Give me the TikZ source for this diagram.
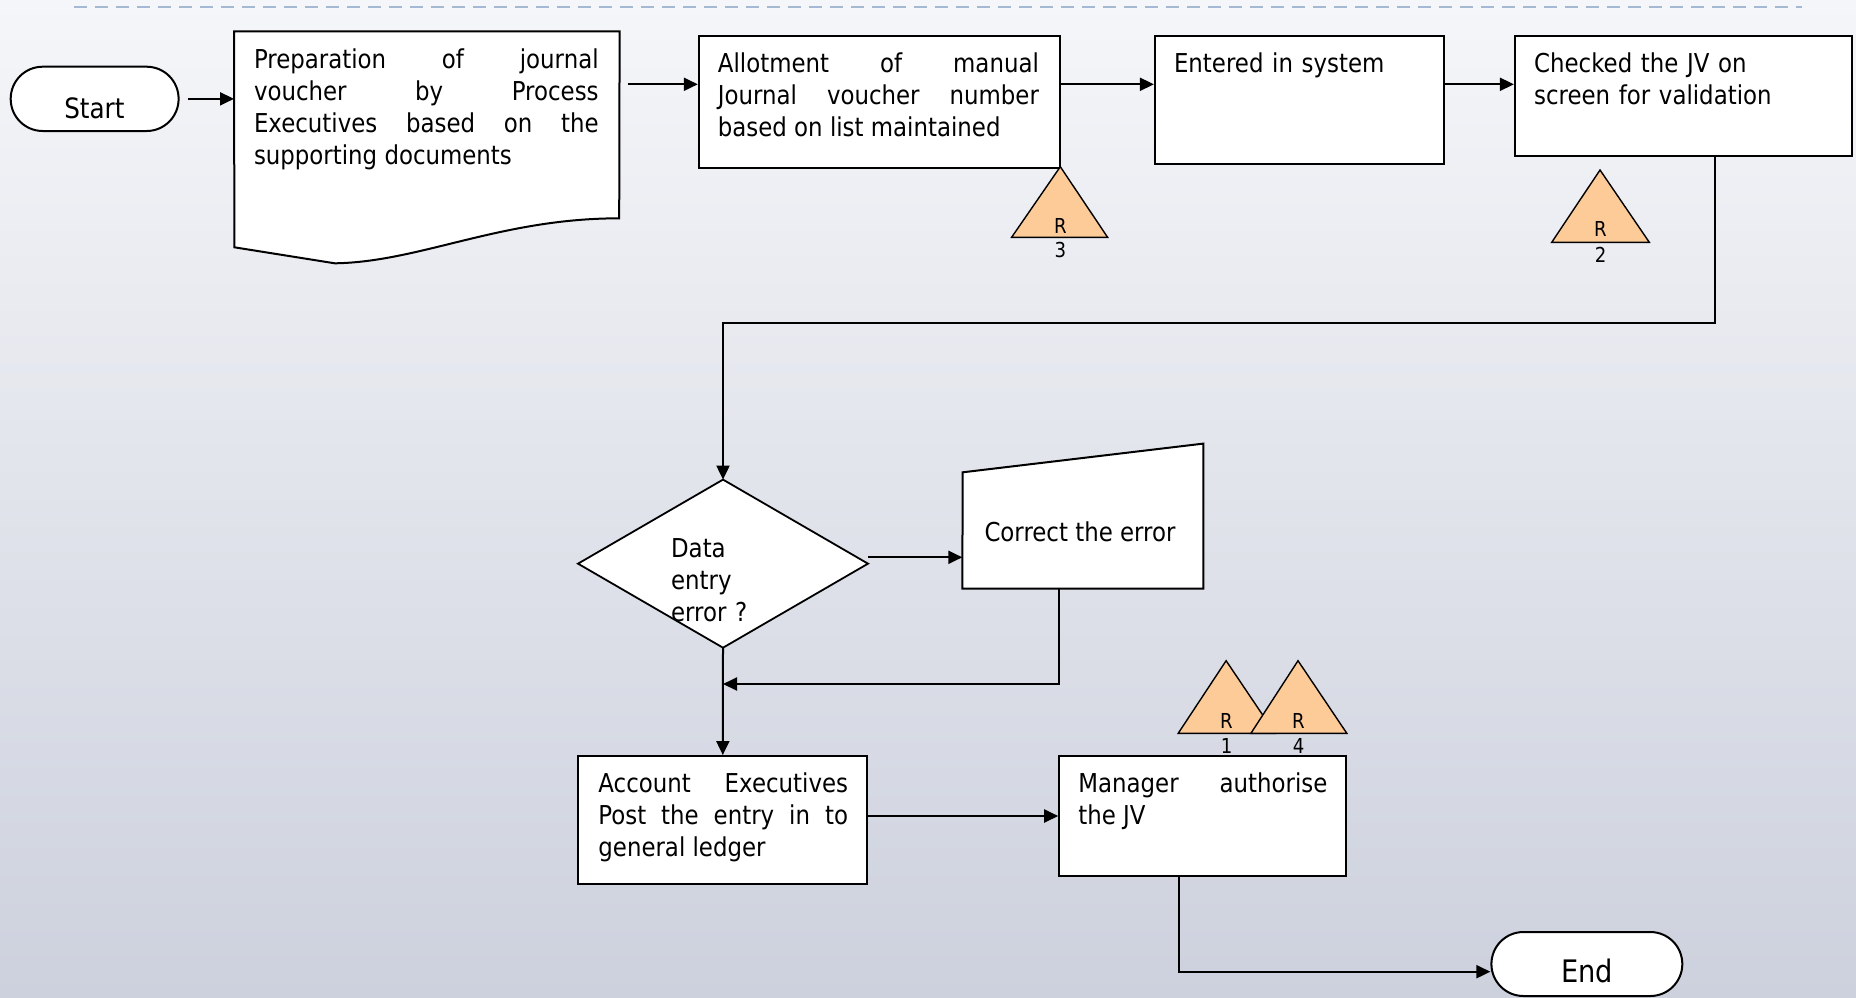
\documentclass[tikz,border=0pt]{standalone}
\usepackage{fontspec}
\setmainfont{DejaVu Sans}[FakeStretch=0.88]
\usetikzlibrary{arrows.meta}
\definecolor{bgtop}{RGB}{245,246,249}
\definecolor{bgmid}{RGB}{229,231,237}
\definecolor{bgbot}{RGB}{205,209,221}
\definecolor{dashc}{RGB}{165,186,210}
\definecolor{peach}{RGB}{253,203,152}
\begin{document}
\begin{tikzpicture}[x=0.5pt,y=-0.5pt,
  box/.style={draw=black, fill=white, line width=1pt, inner sep=0pt, rectangle},
  ghost/.style={inner sep=0pt, rectangle},
  term/.style={draw=black, fill=white, line width=1pt, inner sep=0pt, rectangle, rounded corners=16pt},
  txt/.style={inner sep=0pt, font=\fontsize{13pt}{16pt}\selectfont},
  jtxt/.style={txt, align=justify, anchor=base west},
  ltxt/.style={txt, align=left, anchor=base west},
  rtxt/.style={inner sep=0pt, font=\fontsize{10.3pt}{12pt}\selectfont, anchor=base},
  arr/.style={line width=1pt, -{Triangle[length=7pt,width=6.5pt]}},
  outline/.style={draw=black, fill=white, line width=1pt, line join=miter},
  risk/.style={draw=black, fill=peach, line width=0.7pt, line join=miter},
]
\useasboundingbox (0,0) rectangle (1856,997);
\shade[top color=bgtop, middle color=bgmid, bottom color=bgbot] (0,0) rectangle (1856,997);
\draw[dashc, line width=0.8pt, dash pattern=on 6.5pt off 4pt] (73.7,6.7) -- (1801.5,6.7);

% node frames
\node[term, minimum width=83.95pt, minimum height=32.15pt] (start) at (94.65,98.85) {};
\node[ghost, minimum width=192.4pt, minimum height=115.8pt] (doc) at (426.8,147.5) {};
\node[box, minimum width=180.4pt, minimum height=66pt] (allot) at (879.2,101.7) {};
\node[box, minimum width=144.4pt, minimum height=64pt] (entered) at (1299.3,100) {};
\node[box, minimum width=168.45pt, minimum height=60pt] (checked) at (1683.35,96) {};
\node[ghost, minimum width=144.6pt, minimum height=83.65pt] (dia) at (723,563.65) {};
\node[ghost, minimum width=120.1pt, minimum height=72.15pt] (corr) at (1082.8,516.15) {};
\node[box, minimum width=144.6pt, minimum height=64.15pt] (acct) at (722.8,820.15) {};
\node[box, minimum width=143.4pt, minimum height=60pt] (mgr) at (1202.6,816) {};
\node[term, minimum width=95.45pt, minimum height=32pt] (end) at (1586.85,964) {};

% special outlines
\draw[outline] (doc.north west) -- (doc.north east) -- (619.2,218.3)
  .. controls (500,218.3) and (420,262) .. (334.8,263.3) -- (234.4,247.3) -- cycle;
\draw[outline] (corr.south west) -- (962.7,472.3) -- (corr.north east) -- (corr.south east) -- cycle;
\draw[outline, line width=0.9pt] (dia.north) -- (dia.east) -- (dia.south) -- (dia.west) -- cycle;

% connectors
\coordinate (y1) at (0,84.3);
\coordinate (c1) at (1715,323.3);
\coordinate (c2) at (868,557.3);
\coordinate (c3) at (1058.7,684);
\coordinate (c4) at (1179,971.7);
\draw[arr, shorten <=4pt] (start.east) -- (doc.west |- start.east);
\draw[arr, shorten <=4pt] (doc.east |- y1) -- (allot.west |- y1);
\draw[arr] (allot.east |- y1) -- (entered.west |- y1);
\draw[arr] (entered.east |- y1) -- (checked.west |- y1);
\draw[arr] (checked.south -| c1) -- (c1) -- (c1 -| dia.north) -- (dia.north);
\draw[arr] (c2) -- (c2 -| corr.west);
\draw[arr] (corr.south -| c3) -- (c3) -- (c3 -| dia.south);
\draw[arr] (dia.south) -- (acct.north);
\draw[arr] (acct.east |- mgr.west) -- (mgr.west);
\draw[arr] (mgr.south -| c4) -- (c4) -- (c4 -| end.west);

% texts
\node[anchor=base, inner sep=0pt, font=\fontsize{14pt}{16pt}\selectfont] (starttext) at (94.4,118.3) {Start};
\node[anchor=base, inner sep=0pt, font=\fontsize{15.5pt}{18pt}\selectfont] (endtext) at (1587,982.7) {End};
\node[jtxt, text width=172.3pt] (doctext) at (253.6,68.3) {Preparation of journal\linebreak voucher by Process\linebreak Executives based on the\linebreak supporting documents};
\node[jtxt, text width=160.5pt] (allottext) at (717.5,72.7) {Allotment of manual\linebreak Journal voucher number\linebreak based on list maintained};
\node[ltxt, text width=130pt] (enteredtext) at (1173.6,72.7) {Entered in system};
\node[ltxt, text width=150pt] (checkedtext) at (1533.7,72.7) {Checked the JV on\\screen for validation};
\node[ltxt, text width=80pt] (diatext) at (670.7,557.7) {Data\\entry\\error ?};
\node[txt, anchor=base] (corrtext) at (1080,541) {Correct the error};
\node[jtxt, text width=124.8pt] (accttext) at (598,792.7) {Account Executives\linebreak Post the entry in to\linebreak general ledger};
\node[jtxt, text width=124.5pt] (mgrtext) at (1078,792.7) {Manager authorise\linebreak the JV};

% risk triangles
\draw[risk] (1060.3,166.7) -- (1107.6,237.3) -- (1011.6,237.3) -- cycle;
\node[rtxt] (r3a) at (1060.3,233.3) {R};
\node[rtxt] (r3b) at (1060.3,257.3) {3};
\draw[risk] (1600,170) -- (1649.3,242.3) -- (1551.7,242.3) -- cycle;
\node[rtxt] (r2a) at (1600.5,236.7) {R};
\node[rtxt] (r2b) at (1600.5,262.7) {2};
\draw[risk] (1226.1,660.7) -- (1275,733.3) -- (1178.2,733.3) -- cycle;
\node[rtxt] (r1a) at (1226.5,728.3) {R};
\node[rtxt] (r1b) at (1226.5,753.3) {1};
\draw[risk] (1298,660.7) -- (1346.8,733.3) -- (1250.9,733.3) -- cycle;
\node[rtxt] (r4a) at (1298.5,728.3) {R};
\node[rtxt] (r4b) at (1298.5,753.3) {4};
\end{tikzpicture}
\end{document}
